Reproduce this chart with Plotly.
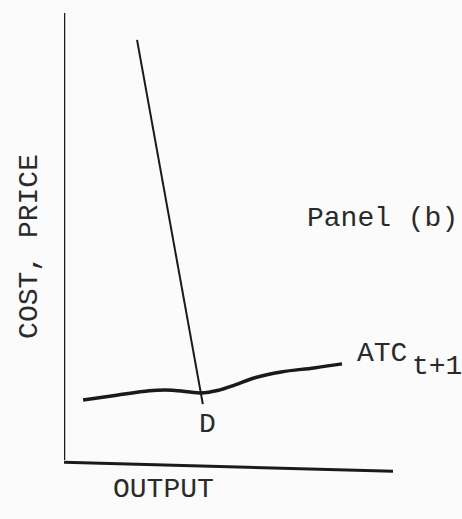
import plotly.graph_objects as go

# Axis frame (hand-drawn, slightly sloped baseline)
yaxis_x = [0.0, 0.0]
yaxis_y = [0.0, 10.0]
xaxis_x = [0.0, 10.0]
xaxis_y = [-0.05, -0.25]

# Steep demand line ending at D
demand_x = [2.22, 4.22]
demand_y = [9.40, 1.25]

# ATC_{t+1} curve
atc_x = [0.58, 1.6, 2.6, 3.3, 4.15, 4.7, 5.2, 5.8, 6.6, 7.6, 8.45]
atc_y = [1.34, 1.45, 1.55, 1.56, 1.50, 1.56, 1.68, 1.84, 1.97, 2.06, 2.15]

ink = "#1a1a1a"
font = dict(family="Liberation Mono, DejaVu Sans Mono, monospace", size=28, color="#2a2a2a")

fig = go.Figure()
fig.add_trace(go.Scatter(x=yaxis_x, y=yaxis_y, mode="lines", line=dict(color=ink, width=2.5)))
fig.add_trace(go.Scatter(x=xaxis_x, y=xaxis_y, mode="lines", line=dict(color=ink, width=3)))
fig.add_trace(go.Scatter(x=demand_x, y=demand_y, mode="lines", line=dict(color=ink, width=2)))
fig.add_trace(go.Scatter(x=atc_x, y=atc_y, mode="lines", line=dict(color=ink, width=3.5, shape="spline")))

def label(x, y, text, **kw):
    fig.add_annotation(x=x, y=y, xref="paper", yref="paper", text=text, showarrow=False,
                       font=font, **kw)

# positions in paper fractions (plot area: 329 x 462 px)
label(0.437, 0.110, "D", xanchor="center", yanchor="middle")
label(0.886, 0.264, "ATC", xanchor="left", yanchor="middle")
label(1.052, 0.234, "t+1", xanchor="left", yanchor="middle")
label(0.733, 0.556, "Panel (b)", xanchor="left", yanchor="middle")
label(-0.103, 0.494, "COST, PRICE", textangle=-90, xanchor="center", yanchor="middle")
label(0.301, -0.032, "OUTPUT", xanchor="center", yanchor="middle")

fig.update_layout(
    width=462, height=519,
    margin=dict(l=64, r=69, t=13, b=44),
    paper_bgcolor="#fbfbfb", plot_bgcolor="#fbfbfb",
    showlegend=False,
    xaxis=dict(range=[0, 10], visible=False, fixedrange=True),
    yaxis=dict(range=[-0.336, 10], visible=False, fixedrange=True),
)
fig.update_traces(cliponaxis=False, hoverinfo="skip")
fig.write_html("out.html", config={"displayModeBar": False},
               post_script="document.body.style.margin='0';")
